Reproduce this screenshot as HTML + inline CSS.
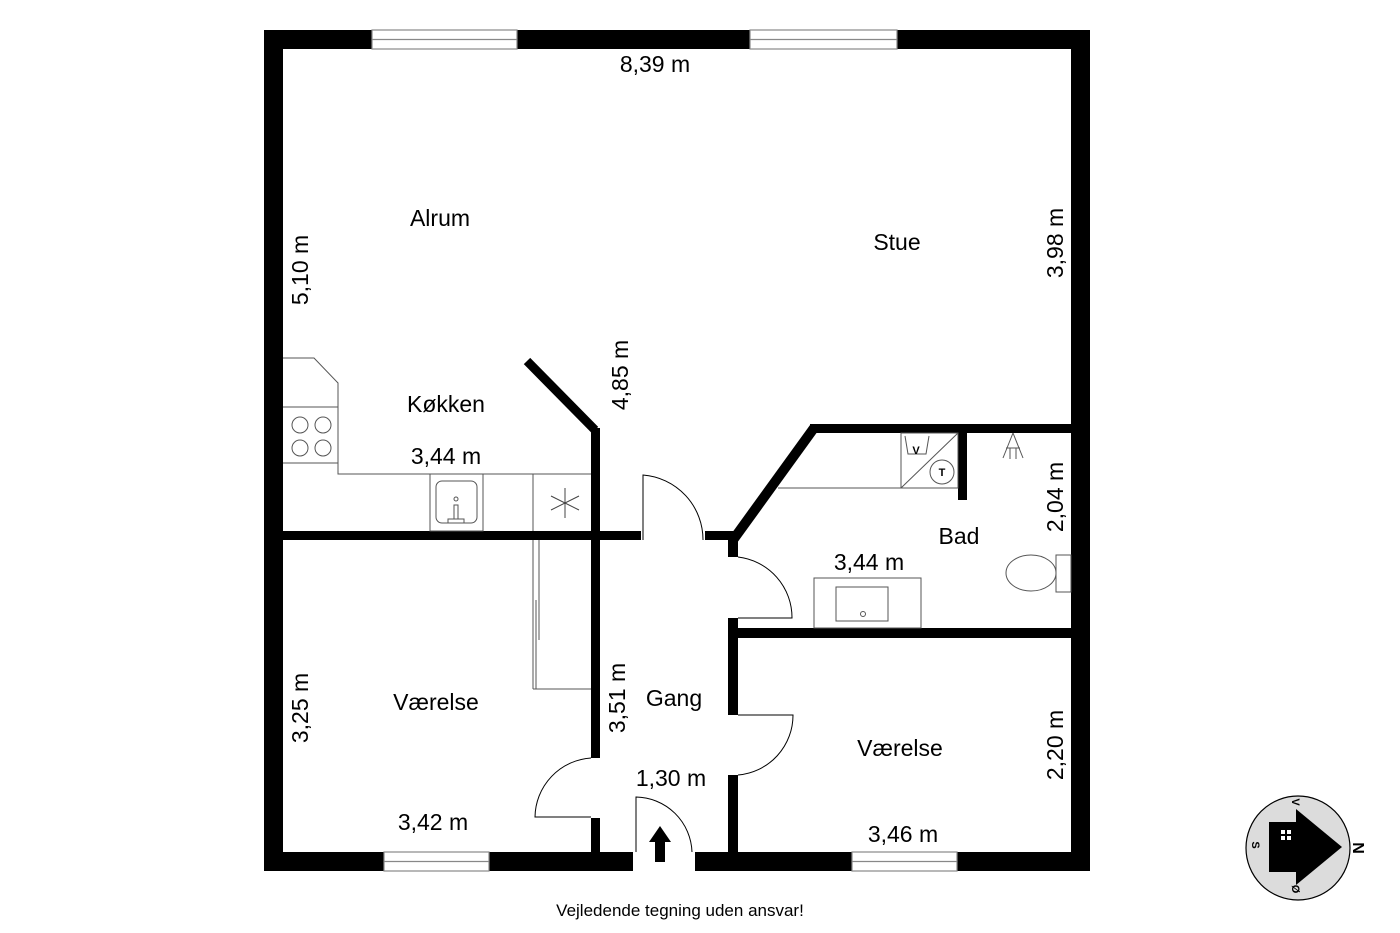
<!DOCTYPE html>
<html><head><meta charset="utf-8"><style>
html,body{margin:0;padding:0;background:#fff;}
svg{display:block;}
text{font-family:"Liberation Sans",sans-serif;fill:#000;}
</style></head><body>
<svg width="1400" height="933" viewBox="0 0 1400 933" xmlns="http://www.w3.org/2000/svg">
<rect x="264" y="30" width="826" height="19" fill="#000"/>
<rect x="264" y="30" width="19" height="841" fill="#000"/>
<rect x="1071" y="30" width="19" height="841" fill="#000"/>
<rect x="264" y="852" width="369" height="19" fill="#000"/>
<rect x="695" y="852" width="395" height="19" fill="#000"/>
<g fill="#fff" stroke="#888" stroke-width="1.2">
<rect x="372" y="30" width="145" height="19"/><line x1="372" y1="39.5" x2="517" y2="39.5"/>
<rect x="750" y="30" width="147" height="19"/><line x1="750" y1="39.5" x2="897" y2="39.5"/>
<rect x="384" y="852" width="105" height="19"/><line x1="384" y1="861.5" x2="489" y2="861.5"/>
<rect x="852" y="852" width="105" height="19"/><line x1="852" y1="861.5" x2="957" y2="861.5"/>
</g>
<g fill="#000">
<rect x="283" y="531" width="358" height="9"/>
<rect x="705" y="531" width="33" height="9"/>
<rect x="591" y="428" width="9" height="330"/>
<rect x="591" y="818" width="9" height="34"/>
<rect x="728" y="531" width="10" height="26"/>
<rect x="728" y="618" width="10" height="97"/>
<rect x="728" y="775" width="10" height="77"/>
<rect x="738" y="628" width="333" height="10"/>
<rect x="810" y="424" width="261" height="9"/>
<rect x="958" y="433" width="9" height="67"/>
</g>
<polyline points="527,361 595,430" stroke="#000" stroke-width="9" fill="none"/>
<polyline points="733,540 814,428" stroke="#000" stroke-width="10" fill="none"/>
<g fill="none" stroke="#000" stroke-width="1">
<path d="M643,540 V475 A65,65 0 0 1 703,540"/>
<path d="M738,557 A61,61 0 0 1 792,618 H738"/>
<path d="M738,715 H793 A60,60 0 0 1 738,775"/>
<path d="M591,758 A60,60 0 0 0 535,817 H591"/>
<path d="M636,852 V797 A57,57 0 0 1 692,852"/>
</g>
<polygon points="660,826 671,842 665,842 665,862 655,862 655,842 649,842" fill="#000"/>
<g fill="none" stroke="#555" stroke-width="1">
<polyline points="283,358 314,358 338,383 338,474 591,474"/>
<line x1="283" y1="407" x2="338" y2="407"/>
<line x1="283" y1="463" x2="338" y2="463"/>
<circle cx="300" cy="425" r="8"/><circle cx="323" cy="425" r="8"/>
<circle cx="300" cy="448" r="8"/><circle cx="323" cy="448" r="8"/>
<rect x="430" y="474" width="53" height="57"/>
<rect x="436" y="481" width="41" height="42" rx="6"/>
<circle cx="456" cy="499" r="2"/>
<rect x="454" y="505" width="4" height="14"/>
<rect x="448" y="519" width="16" height="4"/>
<line x1="533" y1="474" x2="533" y2="531"/>
<g stroke="#444"><line x1="565" y1="488" x2="565" y2="518"/><line x1="551" y1="496" x2="579" y2="510"/><line x1="551" y1="510" x2="579" y2="496"/></g>
<line x1="533" y1="540" x2="533" y2="689"/>
<line x1="539" y1="540" x2="539" y2="640"/>
<line x1="536" y1="600" x2="536" y2="689"/>
<line x1="533" y1="689" x2="591" y2="689"/>
<line x1="778" y1="488" x2="958" y2="488"/>
<rect x="901" y="433" width="57" height="55"/>
<line x1="901" y1="488" x2="958" y2="433"/>
<path d="M905,436 L908,454 H926 L929,436"/>
<circle cx="942" cy="472" r="12"/>
<line x1="1013" y1="433" x2="1003" y2="458"/><line x1="1013" y1="433" x2="1023" y2="458"/>
<line x1="1006" y1="448" x2="1020" y2="448"/>
<line x1="1010" y1="448" x2="1010" y2="459"/><line x1="1016" y1="448" x2="1016" y2="459"/>
<ellipse cx="1031" cy="573" rx="25" ry="18"/>
<rect x="1056" y="555" width="15" height="37"/>
<rect x="814" y="578" width="107" height="50"/>
<rect x="836" y="587" width="52" height="34"/>
<circle cx="863" cy="614" r="2.5"/>
</g>
<text x="916" y="454" font-size="11" text-anchor="middle" font-weight="bold">V</text>
<text x="942" y="476" font-size="11" text-anchor="middle" font-weight="bold">T</text>
<g font-size="23" text-anchor="middle">
<text x="655" y="72">8,39 m</text>
<text x="440" y="226">Alrum</text>
<text x="897" y="250">Stue</text>
<text x="446" y="412">Køkken</text>
<text x="446" y="464">3,44 m</text>
<text x="959" y="544">Bad</text>
<text x="869" y="570">3,44 m</text>
<text x="436" y="710">Værelse</text>
<text x="674" y="706">Gang</text>
<text x="900" y="756">Værelse</text>
<text x="671" y="786">1,30 m</text>
<text x="433" y="830">3,42 m</text>
<text x="903" y="842">3,46 m</text>
<text transform="translate(1063,243) rotate(-90)">3,98 m</text>
<text transform="translate(308,270) rotate(-90)">5,10 m</text>
<text transform="translate(628,375) rotate(-90)">4,85 m</text>
<text transform="translate(1063,497) rotate(-90)">2,04 m</text>
<text transform="translate(308,708) rotate(-90)">3,25 m</text>
<text transform="translate(625,698) rotate(-90)">3,51 m</text>
<text transform="translate(1063,745) rotate(-90)">2,20 m</text>
</g>
<text x="680" y="916" font-size="17" text-anchor="middle">Vejledende tegning uden ansvar!</text>
<circle cx="1298" cy="848" r="52" fill="#dcdcdc" stroke="#000" stroke-width="1.2"/>
<polygon points="1269,822 1296,822 1296,809 1342,847 1296,885 1296,872 1269,872" fill="#000"/>
<rect x="1281" y="830" width="4" height="4" fill="#fff"/><rect x="1287" y="830" width="4" height="4" fill="#fff"/>
<rect x="1281" y="836" width="4" height="4" fill="#fff"/><rect x="1287" y="836" width="4" height="4" fill="#fff"/>
<g font-weight="bold" text-anchor="middle">
<text transform="translate(1353,848) rotate(90)" font-size="16">N</text>
<text transform="translate(1292,802) rotate(90)" font-size="11">V</text>
<text transform="translate(1252,845) rotate(90)" font-size="11">S</text>
<text transform="translate(1292,889) rotate(90)" font-size="11">Ø</text>
</g>
</svg>
</body></html>
